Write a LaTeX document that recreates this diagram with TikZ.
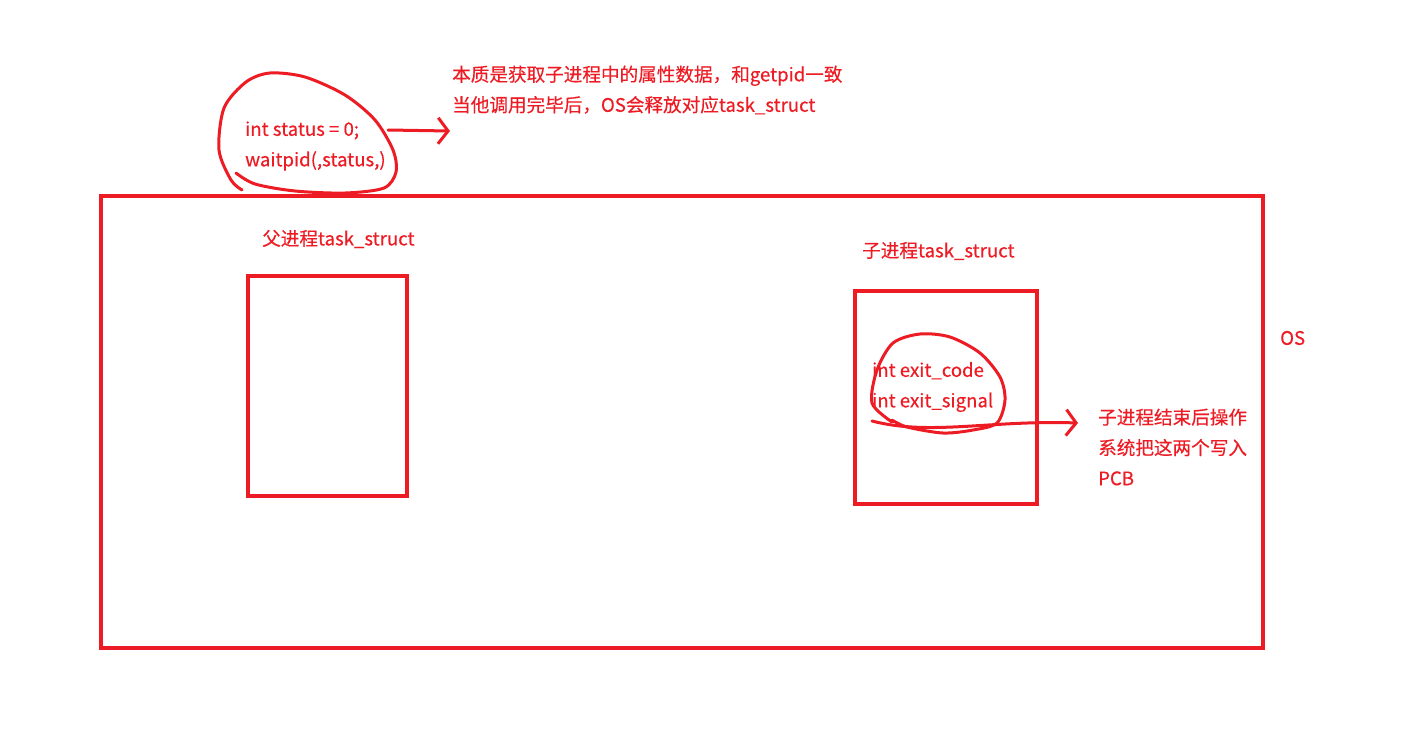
\documentclass[tikz,border=0pt]{standalone}
\usepackage{fontspec}
\newfontfamily\cjk[FakeBold=0.4]{Noto Sans CJK SC}
\usepackage{tikz}
\usetikzlibrary{arrows.meta,positioning,calc}
\definecolor{penred}{HTML}{ED1C24}

\begin{document}
\begin{tikzpicture}[x=1pt, y=-1pt,
    label/.style={text=penred, inner sep=0pt, anchor=west, align=left,
      font=\cjk\fontsize{18.6}{30.5}\selectfont},
    box/.style={draw=penred, line width=4pt, inner sep=0pt},
    pen/.style={draw=penred, line width=3pt, line cap=round, line join=round},
    barb/.style={pen, -{Straight Barb[length=10pt,width=26pt,line width=3pt]}}]
    \useasboundingbox (0,0) rectangle (1415,732);

    \node[box, minimum width=1162pt, minimum height=452pt] (os) at (682,422) {};
    \node[box, minimum width=159pt, minimum height=220pt] (parent) at (327.5,386) {};
    \node[box, minimum width=182pt, minimum height=213pt] (child) at (946,397.5) {};

    \node[label] (oslabel) at (1280,338) {OS};
    \node[label] (parentlabel) at (262,239) {父进程task\_struct};
    \node[label] (childlabel) at (862,251) {子进程task\_struct};

    \node[label] (waitcode) at (245,146) {int status = 0;\\waitpid(,status,)};
    \node[label] (waitnote) at (452,90) {本质是获取子进程中的属性数据，和getpid一致\\当他调用完毕后，OS会释放对应task\_struct};
    \node[label] (exitcode) at (872,387) {int exit\_code\\int exit\_signal};
    \node[label] (exitnote) at (1098,447) {子进程结束后操作\\系统把这两个写入\\PCB};

    % freehand circles
    \draw[pen] plot[smooth] coordinates {(242,190) (231,180) (219,150) (224,108) (246,82)
      (270,73) (305,77) (345,95) (375,120) (393,150) (396,172) (384,188) (345,193)
      (295,191) (255,184) (236,173)};
    \draw[pen] plot[smooth] coordinates {(892,422) (872,403) (877,370) (893,343) (920,334)
      (950,337) (980,353) (1000,377) (1005,400) (997,423) (973,430) (943,433) (907,427)
      (892,420)};

    \coordinate (waitfrom) at (388,130);
    \coordinate (waitto) at (450,131);
    \draw[barb] (waitfrom) -- (waitto);

    \coordinate (exitfrom) at (872,421);
    \coordinate (exitto) at (1078,423);
    \draw[barb] (exitfrom) .. controls (930,436) and (990,420) .. (exitto);
\end{tikzpicture}
\end{document}
